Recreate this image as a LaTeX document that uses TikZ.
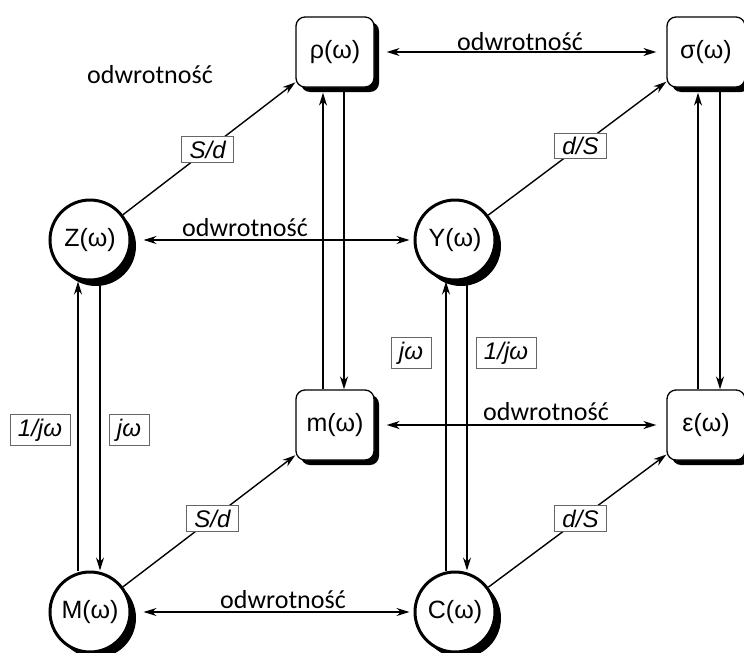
\documentclass[tikz,border=0pt]{standalone}
\usepackage{fontspec}
\setmainfont{Liberation Sans}
\newfontfamily\odwfont{Carlito}
\usetikzlibrary{shadows,arrows.meta,calc,backgrounds}
\begin{document}
\begin{tikzpicture}[x=1pt,y=-1pt,
  conn/.style={line width=1.4pt},
  tip/.style={-{Stealth[length=13pt,width=8pt]}},
  dtip/.style={{Stealth[length=13pt,width=8pt]}-{Stealth[length=13pt,width=8pt]}},
  circ/.style={circle, draw, line width=3pt, fill=white, minimum size=80pt, inner sep=0pt,
    font=\fontsize{25}{28}\selectfont,
    drop shadow={shadow xshift=6pt, shadow yshift=-6pt, opacity=1, fill=black}},
  rbox/.style={rectangle, rounded corners=9pt, draw, line width=1.3pt, fill=white,
    minimum width=78pt, minimum height=70pt, inner sep=0pt,
    font=\fontsize{25}{28}\selectfont,
    drop shadow={shadow xshift=5pt, shadow yshift=-5pt, opacity=1, fill=black}},
  lab/.style={draw=black!60, line width=0.9pt, fill=white, inner xsep=8pt, inner ysep=4pt,
    font=\fontsize{24}{26}\selectfont\itshape},
  odw/.style={font=\odwfont\fontsize{26}{30}\selectfont, inner sep=0pt}
]
\useasboundingbox (0,0) rectangle (744,653);

% nodes
\node[circ] (Z) at (90,240) {Z(ω)};
\node[circ] (Y) at (455,240) {Y(ω)};
\node[circ] (M) at (90,612) {M(ω)};
\node[circ] (C) at (455,612) {C(ω)};
\node[rbox] (rho) at (335,52) {ρ(ω)};
\node[rbox] (sigma) at (706,52) {σ(ω)};
\node[rbox] (m) at (335,425) {m(ω)};
\node[rbox] (eps) at (706,425) {ε(ω)};

\begin{scope}[on background layer]
% vertical pairs
\draw[conn,tip] ([xshift=-12pt]M.north) -- ([xshift=-12pt]Z.south);
\draw[conn,tip] ([xshift=10pt]Z.south) -- ([xshift=10pt]M.north);
\draw[conn,tip] ([xshift=-9pt]C.north) -- ([xshift=-9pt]Y.south);
\draw[conn,tip] ([xshift=12pt]Y.south) -- ([xshift=12pt]C.north);
\draw[conn,tip] ([xshift=-12pt]m.north) -- ([xshift=-12pt,yshift=-5pt]rho.south);
\draw[conn,tip] ([xshift=9pt]rho.south) -- ([xshift=9pt]m.north);
\draw[conn,tip] ([xshift=-8pt]eps.north) -- ([xshift=-8pt,yshift=-5pt]sigma.south);
\draw[conn,tip] ([xshift=14pt]sigma.south) -- ([xshift=14pt]eps.north);
% horizontal pairs
\draw[conn,dtip] ([xshift=12pt]Z.east) -- ([xshift=-4pt]Y.west);
\draw[conn,dtip] ([xshift=12pt]M.east) -- ([xshift=-4pt]C.west);
\draw[conn,dtip] ([xshift=12pt]rho.east) -- ([xshift=-10pt]sigma.west);
\draw[conn,dtip] ([xshift=12pt]m.east) -- ([xshift=-10pt]eps.west);
% diagonals
\draw[conn,tip] (Z) -- (rho);
\draw[conn,tip] (Y) -- (sigma);
\draw[conn,tip] (M) -- (m);
\draw[conn,tip] (C) -- (eps);
\end{scope}

% labels on diagonals
\node[lab] (l1) at ($(Z)!0.48!(rho)$) {S/d};
\node[lab] (l2) at ($(Y)!0.5!(sigma)$) {d/S};
\node[lab] (l3) at ($(M)!0.5!(m)$) {S/d};
\node[lab] (l4) at ($(C)!0.5!(eps)$) {d/S};
% labels on verticals
\node[lab] (l5) at (40,430) {1/jω};
\node[lab] (l6) at (129,430) {jω};
\node[lab] (l7) at (411,353) {jω};
\node[lab] (l8) at (506,353) {1/jω};
% inverse labels
\node[odw] (o0) at (150,75) {odwrotność};
\node[odw] (o1) at (520,42) {odwrotność};
\node[odw] (o2) at (245,228) {odwrotność};
\node[odw] (o3) at (546,412) {odwrotność};
\node[odw] (o4) at (283,600) {odwrotność};
\end{tikzpicture}
\end{document}
